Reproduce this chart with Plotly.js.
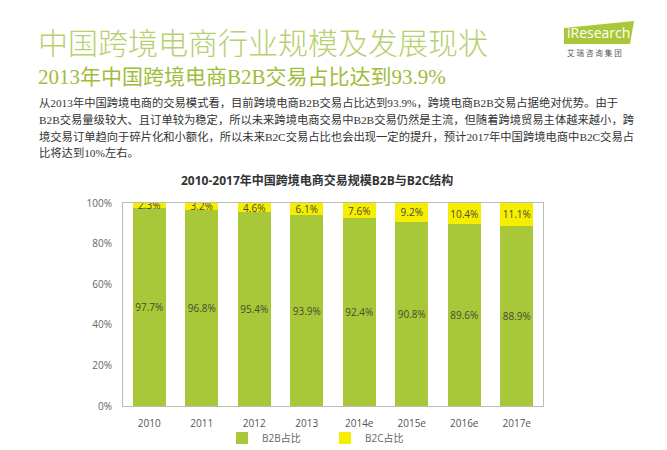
<!DOCTYPE html>
<html><head><meta charset="utf-8">
<script src="https://cdn.plot.ly/plotly-3.0.1.min.js"></script>
<style>html,body{margin:0;padding:0;background:#fff}#chart{width:667px;height:450px}</style>
</head><body><div id="chart"></div>
<script>
const years = ['2010','2011','2012','2013','2014e','2015e','2016e','2017e'];
const b2b = [97.7, 96.8, 95.4, 93.9, 92.4, 90.8, 89.6, 88.9];
const b2c = [2.3, 3.2, 4.6, 6.1, 7.6, 9.2, 10.4, 11.1];
const seriesNames = ['B2B占比', 'B2C占比'];
const yTicks = [0, 20, 40, 60, 80, 100];

const mainTitle = '中国跨境电商行业规模及发展现状';
const subTitle = '2013年中国跨境电商B2B交易占比达到93.9%';
const bodyLines = [
  '从2013年中国跨境电商的交易模式看，目前跨境电商B2B交易占比达到93.9%，跨境电商B2B交易占据绝对优势。由于',
  'B2B交易量级较大、且订单较为稳定，所以未来跨境电商交易中B2B交易仍然是主流，但随着跨境贸易主体越来越小，跨',
  '境交易订单趋向于碎片化和小额化，所以未来B2C交易占比也会出现一定的提升，预计2017年中国跨境电商中B2C交易占',
  '比将达到10%左右。'
];
const chartTitle = '2010-2017年中国跨境电商交易规模B2B与B2C结构';

// pixel -> paper helpers (plot area 123..543 x 203..406)
const L = 123, R = 543, T = 203, B = 406;
const px = x => (x - L) / (R - L);
const py = y => (B - y) / (B - T);

const sans = '"Open Sans", "Noto Sans CJK SC", sans-serif';
const serif = '"Liberation Serif", "Noto Sans CJK SC", serif';

const traces = [
  {type:'bar', x: years, y: b2b, name: seriesNames[0],
   marker:{color:'#a8c839'}, width:0.63,
   text: b2b.map(v => v.toFixed(1) + '%'), textposition:'inside', insidetextanchor:'middle', textangle:0,
   textfont:{size:10, color:'#4a4a30', family: sans}, hoverinfo:'skip'},
  {type:'bar', x: years, y: b2c, name: seriesNames[1],
   marker:{color:'#f6ee00'}, width:0.63,
   text: b2c.map(v => v.toFixed(1) + '%'), textposition:'inside', insidetextanchor:'middle', textangle:0,
   textfont:{size:10, color:'#4a4a30', family: sans}, hoverinfo:'skip'}
];

const ann = [];
ann.push({xref:'paper', yref:'paper', x:px(36), y:py(42), xanchor:'left', yanchor:'middle',
  text: mainTitle, showarrow:false, font:{size:30, color:'#b8cf70', family: sans, weight:300}});
ann.push({xref:'paper', yref:'paper', x:px(36), y:py(77), xanchor:'left', yanchor:'middle',
  text: subTitle, showarrow:false, font:{size:21, color:'#9fbc3c', family: serif}});
const lineY = [103, 120, 136, 152];
bodyLines.forEach((t, i) => ann.push({xref:'paper', yref:'paper', x:px(37), y:py(lineY[i]),
  xanchor:'left', yanchor:'middle', text:t, showarrow:false, font:{size:11.3, color:'#333', family: serif}}));
ann.push({xref:'paper', yref:'paper', x:px(317), y:py(181), xanchor:'center', yanchor:'middle',
  text: chartTitle, showarrow:false, font:{size:12, color:'#333', family: sans, weight:'bold'}});
// logo text
ann.push({xref:'paper', yref:'paper', x:px(598), y:py(33), xanchor:'center', yanchor:'middle',
  text:'iResearch', showarrow:false, font:{size:14, color:'#ffffff', family: sans}});
ann.push({xref:'paper', yref:'paper', x:px(594), y:py(53), xanchor:'center', yanchor:'middle',
  text:'艾 瑞 咨 询 集 团', showarrow:false, font:{size:7.5, color:'#555', family: sans}});

const pathPx = pts => 'M' + pts.map(p => px(p[0]) + ',' + py(p[1])).join(' L') + ' Z';
const shapes = [
  {type:'path', xref:'paper', yref:'paper', path: pathPx([[564,44],[564,28],[634,21],[630,44]]),
   fillcolor:'#a8c839', line:{width:0}}
];

const layout = {
  width:667, height:450,
  margin:{l:L, r:667-R, t:T, b:450-B, autoexpand:false},
  paper_bgcolor:'#fff', plot_bgcolor:'#fff',
  barmode:'stack', bargap:0.37,
  showlegend:true,
  legend:{orientation:'h', traceorder:'normal', x:px(222), xanchor:'left', y:py(438), yanchor:'middle',
    bgcolor:'rgba(0,0,0,0)', font:{size:10, color:'#666', family: sans}, entrywidth:58},
  uniformtext:{mode:'show', minsize:10},
  xaxis:{type:'category', showline:true, mirror:true, linecolor:'#bbb', linewidth:1,
    ticks:'', ticklabelstandoff:8, tickfont:{size:10, color:'#555', family: sans}, showgrid:false, fixedrange:true},
  yaxis:{range:[0,100], tickvals:yTicks, ticktext: yTicks.map(v => v + '%'),
    showline:true, mirror:true, linecolor:'#bbb', linewidth:1, showgrid:false, zeroline:false,
    ticks:'', ticklabelstandoff:8, tickfont:{size:10, color:'#666', family: sans}, fixedrange:true},
  annotations: ann, shapes: shapes
};
Plotly.newPlot('chart', traces, layout, {displayModeBar:false, staticPlot:true});
</script></body></html>
